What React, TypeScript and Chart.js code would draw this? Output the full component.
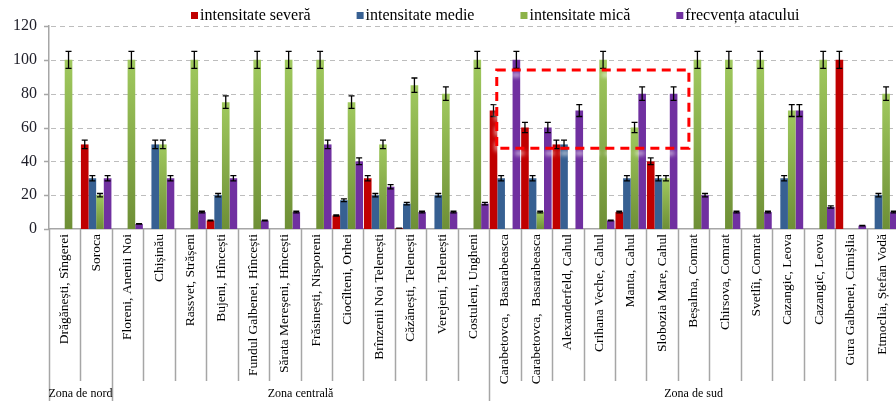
import React, { useEffect, useRef } from "react";
import { Chart, registerables } from "chart.js";

Chart.register(...registerables);

// Sampling sites (one group of bars per site)
const locations = [
  "Drăgănești, Sîngerei",
  "Soroca",
  "Floreni, Anenii Noi",
  "Chișinău",
  "Rassvet, Strășeni",
  "Bujeni, Hîncești",
  "Fundul Galbenei, Hîncești",
  "Sărata Mereșeni, Hîncești",
  "Frăsinești, Nisporeni",
  "Ciocîlteni, Orhei",
  "Brînzenii Noi Telenești",
  "Căzănești, Telenești",
  "Verejeni, Telenești",
  "Costuleni, Ungheni",
  "Carabetovca,  Basarabeasca",
  "Carabetovca,  Basarabeasca",
  "Alexanderfeld, Cahul",
  "Crihana Veche, Cahul",
  "Manta, Cahul",
  "Slobozia Mare, Cahul",
  "Beșalma, Comrat",
  "Chirsova, Comrat",
  "Svetlîi, Comrat",
  "Cazangic, Leova",
  "Cazangic, Leova",
  "Gura Galbenei, Cimișlia",
  "Etmoclia, Ștefan Vodă",
];

// Geographic zones: name and index of the first site in each zone
const zoneNames = ["Zona de nord", "Zona centrală", "Zona de sud"];
const zoneStarts = [0, 2, 14];

// Series values (%)
const severe = [0, 50, 0, 0, 0, 5, 0, 0, 0, 8, 30, 0.5, 0, 0, 70, 60, 50, 0, 10, 40, 0, 0, 0, 0, 0, 100, 0];
const medium = [0, 30, 0, 50, 0, 20, 0, 0, 0, 17, 20, 15, 20, 0, 30, 30, 50, 0, 30, 30, 0, 0, 0, 30, 0, 0, 20];
const low = [100, 20, 100, 50, 100, 75, 100, 100, 100, 75, 50, 85, 80, 100, 0, 10, 0, 100, 60, 30, 100, 100, 100, 70, 100, 0, 80];
const frequency = [0, 30, 3, 30, 10, 30, 5, 10, 50, 40, 25, 10, 10, 15, 100, 60, 70, 5, 80, 80, 20, 10, 10, 70, 13, 2, 10];

const seriesNames = ["intensitate severă", "intensitate medie", "intensitate mică", "frecvența atacului"];
const seriesColors = ["#c00000", "#376092", "#8db348", "#7030a0"];

// Relative error shown by the whiskers
const errorFraction = 0.05;

// Highlighted region: [first category position, last category position], [low value, high value]
const highlightX = [13.74, 19.85];
const highlightY = [47.7, 94];

const SERIF = "'Liberation Serif', 'Times New Roman', serif";

function greenGradient(ctx: any) {
  const chart = ctx.chart;
  const y = chart.scales?.y;
  const v = low[ctx.dataIndex];
  if (!y || !v) return "#8db348";
  const top = y.getPixelForValue(v);
  const bottom = y.getPixelForValue(0);
  if (!isFinite(top) || !isFinite(bottom) || top === bottom) return "#8db348";
  const g = chart.ctx.createLinearGradient(0, top, 0, bottom);
  g.addColorStop(0, "#a0c95e");
  g.addColorStop(1, "#6e8f36");
  return g;
}

// dashed horizontal grid behind the bars
const gridPlugin = {
  id: "dashedGrid",
  beforeDatasetsDraw(chart: any) {
    const { ctx, chartArea } = chart;
    const y = chart.scales.y;
    ctx.save();
    y.ticks.forEach((t: any) => {
      const py = Math.round(y.getPixelForValue(t.value)) + 0.5;
      if (t.value !== 0) {
        ctx.strokeStyle = "#bdbdbd";
        ctx.lineWidth = 1;
        ctx.setLineDash([5, 4]);
        ctx.beginPath();
        ctx.moveTo(chartArea.left + 2, py);
        ctx.lineTo(chartArea.right, py);
        ctx.stroke();
      }
      ctx.setLineDash([]);
      ctx.strokeStyle = "#a6a6a6";
      ctx.lineWidth = 1.5;
      ctx.beginPath();
      ctx.moveTo(chartArea.left - 5, py);
      ctx.lineTo(chartArea.left, py);
      ctx.stroke();
    });
    ctx.restore();
  },
};

const errorBarsPlugin = {
  id: "errorBars",
  afterDatasetsDraw(chart: any) {
    const { ctx } = chart;
    const y = chart.scales.y;
    ctx.save();
    ctx.strokeStyle = "#000";
    ctx.lineWidth = 1.3;
    chart.data.datasets.forEach((ds: any, di: number) => {
      const meta = chart.getDatasetMeta(di);
      meta.data.forEach((el: any, i: number) => {
        const v = ds.data[i];
        if (!v) return;
        const hi = y.getPixelForValue(v * (1 + errorFraction));
        const lo = y.getPixelForValue(v * (1 - errorFraction));
        const x = el.x;
        const half = 3;
        ctx.beginPath();
        ctx.moveTo(x, hi);
        ctx.lineTo(x, lo);
        ctx.moveTo(x - half, hi);
        ctx.lineTo(x + half, hi);
        ctx.moveTo(x - half, lo);
        ctx.lineTo(x + half, lo);
        ctx.stroke();
      });
    });
    ctx.restore();
  },
};

const annotationsPlugin = {
  id: "annotations",
  afterDraw(chart: any) {
    const { ctx, chartArea, width, height } = chart;
    const x = chart.scales.x;
    const y = chart.scales.y;
    const n = locations.length;
    const base = chartArea.bottom;

    ctx.save();

    // separators between sites and zones
    ctx.strokeStyle = "#a6a6a6";
    ctx.lineWidth = 1.5;
    for (let i = 0; i <= n; i++) {
      const bx = Math.round(x.getPixelForValue(i - 0.5)) + 0.5;
      const isZone = zoneStarts.includes(i) || i === n;
      ctx.beginPath();
      ctx.moveTo(bx, base);
      ctx.lineTo(bx, isZone ? height : base + 152);
      ctx.stroke();
    }

    // site names, rotated
    ctx.fillStyle = "#000";
    ctx.font = `13.5px ${SERIF}`;
    ctx.textAlign = "right";
    ctx.textBaseline = "middle";
    locations.forEach((name, i) => {
      const cx = x.getPixelForValue(i);
      ctx.save();
      ctx.translate(cx, base + 5);
      ctx.rotate(-Math.PI / 2);
      ctx.fillText(name, 0, 0);
      ctx.restore();
    });

    // zone names
    ctx.font = `12px ${SERIF}`;
    ctx.textAlign = "center";
    zoneNames.forEach((name, z) => {
      const start = zoneStarts[z];
      const end = z + 1 < zoneStarts.length ? zoneStarts[z + 1] : n;
      const left = x.getPixelForValue(start - 0.5);
      const right = Math.min(x.getPixelForValue(end - 0.5), width);
      ctx.fillText(name, (left + right) / 2, 394);
    });

    // dashed highlight box with a soft light shadow
    const hx0 = x.getPixelForValue(highlightX[0]);
    const hx1 = x.getPixelForValue(highlightX[1]);
    const hy0 = y.getPixelForValue(highlightY[1]);
    const hy1 = y.getPixelForValue(highlightY[0]);
    ctx.save();
    ctx.setLineDash([9, 6]);
    ctx.lineWidth = 3;
    ctx.shadowColor = "rgba(255,255,255,0.85)";
    ctx.shadowBlur = 4;
    ctx.shadowOffsetY = 5;
    ctx.strokeStyle = "#ff0000";
    ctx.strokeRect(hx0, hy0, hx1 - hx0, hy1 - hy0);
    ctx.restore();

    // legend
    ctx.font = `16px ${SERIF}`;
    ctx.textAlign = "left";
    ctx.textBaseline = "middle";
    let lx = 191;
    seriesNames.forEach((name, i) => {
      ctx.fillStyle = seriesColors[i];
      ctx.fillRect(lx, 12, 7, 7);
      ctx.fillStyle = "#000";
      ctx.fillText(name, lx + 9, 16);
      lx += 9 + ctx.measureText(name).width + 46;
    });

    ctx.restore();
  },
};

export default function App() {
  const canvasRef = useRef<HTMLCanvasElement | null>(null);

  useEffect(() => {
    const canvas = canvasRef.current;
    if (!canvas) return;
    const chart = new Chart(canvas, {
      type: "bar",
      data: {
        labels: locations,
        datasets: [
          { label: seriesNames[0], data: severe, backgroundColor: seriesColors[0] },
          { label: seriesNames[1], data: medium, backgroundColor: seriesColors[1] },
          { label: seriesNames[2], data: low, backgroundColor: greenGradient as any },
          { label: seriesNames[3], data: frequency, backgroundColor: seriesColors[3] },
        ],
      },
      options: {
        responsive: false,
        animation: false,
        devicePixelRatio: 1,
        layout: { padding: { top: 26, right: 1, left: 0, bottom: 0 } },
        datasets: {
          bar: { categoryPercentage: 0.97, barPercentage: 1, borderWidth: 0 },
        },
        plugins: {
          legend: { display: false },
          tooltip: { enabled: false },
          title: { display: false },
        },
        scales: {
          x: {
            grid: { display: false },
            border: { display: true, color: "#a6a6a6", width: 1.5 },
            ticks: { display: false },
            afterFit: (scale: any) => {
              scale.height = 172;
            },
          },
          y: {
            min: 0,
            max: 120,
            ticks: {
              stepSize: 20,
              color: "#1e1e28",
              font: { family: SERIF, size: 16 },
              padding: 12,
            },
            grid: { display: false, drawTicks: false },
            border: { display: true, color: "#a6a6a6", width: 1.5 },
            afterFit: (scale: any) => {
              scale.width = 49;
            },
          },
        },
      },
      plugins: [gridPlugin, errorBarsPlugin, annotationsPlugin],
    });
    return () => chart.destroy();
  }, []);

  return (
    <div
      style={{
        position: "fixed",
        left: 0,
        top: 0,
        width: 896,
        height: 401,
        overflow: "hidden",
        background: "#fff",
      }}
    >
      <canvas ref={canvasRef} width={899} height={401} style={{ display: "block", width: 899, height: 401 }} />
    </div>
  );
}
